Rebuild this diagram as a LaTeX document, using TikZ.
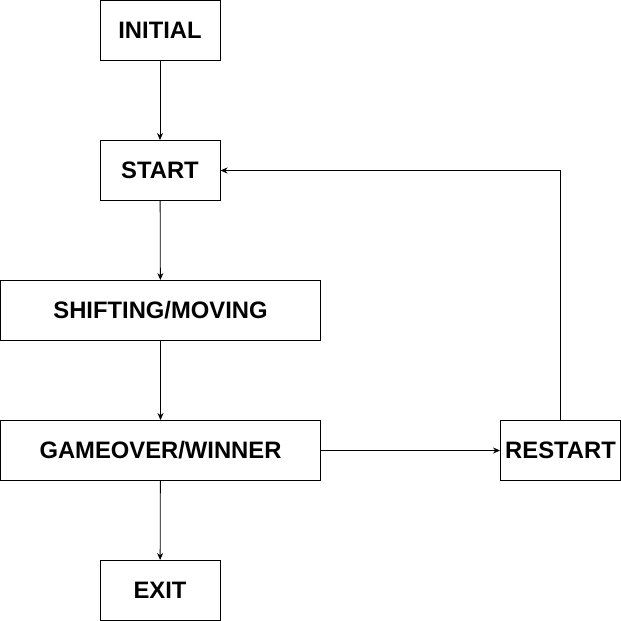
\documentclass[tikz,border=0pt]{standalone}
\usepackage{fontspec}
\setmainfont{Liberation Sans}
\usetikzlibrary{arrows.meta}
\begin{document}
\begin{tikzpicture}[x=1pt,y=-1pt,
  box/.style={draw=black,line width=1pt,fill=white,inner sep=0pt,minimum height=60pt,font=\fontsize{23.8}{26}\selectfont\bfseries},
  arr/.style={line width=0.8pt,-{Stealth[length=7pt,width=6pt]}}]
\useasboundingbox (0,0) rectangle (621,621);
\node[box,minimum width=120pt] (init) at (160,30.5) {INITIAL};
\node[box,minimum width=120pt] (start) at (160,170.5) {START};
\node[box,minimum width=320pt] (shift) at (160.5,310.5) {SHIFTING/MOVING};
\node[box,minimum width=320pt] (game) at (160.5,450.5) {GAMEOVER/WINNER};
\node[box,minimum width=120pt] (exit) at (160,590.5) {EXIT};
\node[box,minimum width=120pt] (restart) at (560.5,450.5) {RESTART};
\coordinate (corner) at (560.5,170.5);
\draw[arr] (init) -- (start);
\draw[arr] (start) -- (shift);
\draw[arr] (shift) -- (game);
\draw[arr] (game) -- (exit);
\draw[arr] (game) -- (restart);
\draw[arr] (restart.north) -- (corner) -- (start.east);
\end{tikzpicture}
\end{document}
